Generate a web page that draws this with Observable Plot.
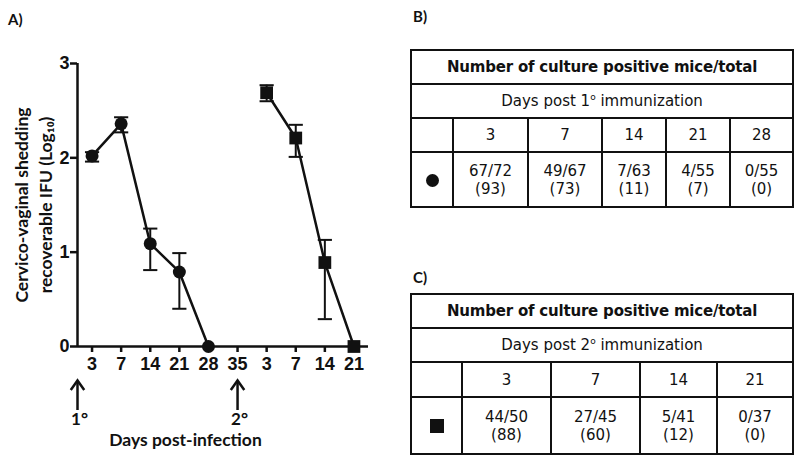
<!DOCTYPE html>
<html><head><meta charset="utf-8">
<script src="https://cdn.jsdelivr.net/npm/d3@7"></script>
<script src="https://cdn.jsdelivr.net/npm/@observablehq/plot@0.6"></script>
<style>
body{margin:0;background:#fff;}
#page{position:relative;width:800px;height:462px;overflow:hidden;background:#fff;color:#111;}
#chart{position:absolute;left:0;top:0;}
#chart g[aria-label$="tick label"], #chart g[aria-label$="tick label"] text{font-size:18px;font-weight:bold;font-family:'Liberation Sans',Arial,sans-serif;}
.panel{position:absolute;font:bold 15px Lato, sans-serif;color:#111;line-height:1;}
table.t{position:absolute;border-collapse:collapse;table-layout:fixed;font-family:"DejaVu Sans",sans-serif;color:#111;}
table.t td{border:2px solid #111;text-align:center;padding:0;font-size:15px;line-height:18px;overflow:hidden;white-space:nowrap;}
table.t td.h{font-weight:bold;font-size:15px;letter-spacing:-0.2px;}
table.t sup{font-size:9px;vertical-align:6px;line-height:0;}
.sym{display:inline-block;background:#111;vertical-align:middle;}
</style>
</head><body>
<div id="page">
  <div id="chart"></div>
  <div class="panel" style="left:8px;top:12px;">A)</div>
  <div class="panel" style="left:413px;top:9px;">B)</div>
  <div class="panel" style="left:413px;top:270px;">C)</div>
</div>
<script>
// ---- Chart data ----
const xLabels = ["3","7","14","21","28","35","3","7","14","21"];
const primaryIdx  = [0, 1, 2, 3, 4];
const primaryMean = [2.02, 2.36, 1.09, 0.79, 0];
const primaryLo   = [1.96, 2.27, 0.81, 0.40, 0];
const primaryHi   = [2.06, 2.43, 1.25, 0.99, 0];
const boostIdx  = [6, 7, 8, 9];
const boostMean = [2.69, 2.21, 0.89, 0];
const boostLo   = [2.60, 2.01, 0.29, 0];
const boostHi   = [2.77, 2.35, 1.13, 0];
const yTicks = [0, 1, 2, 3];
const immunizationPos = [-0.5, 5];
const immunizationLabels = ["1°", "2°"];
const yTitle = "Cervico-vaginal shedding\nrecoverable IFU (Log₁₀)";
const xTitle = "Days post-infection";

// ---- Table data ----
const tableTitle = "Number of culture positive mice/total";
const daysB = [3, 7, 14, 21, 28];
const positiveB = [67, 49, 7, 4, 0];
const totalB = [72, 67, 63, 55, 55];
const percentB = [93, 73, 11, 7, 0];
const daysC = [3, 7, 14, 21];
const positiveC = [44, 27, 5, 0];
const totalC = [50, 45, 41, 37];
const percentC = [88, 60, 12, 0];

const primary = primaryIdx.map((i, k) => ({i, mean: primaryMean[k], lo: primaryLo[k], hi: primaryHi[k], series: "primary"}));
const boost = boostIdx.map((i, k) => ({i, mean: boostMean[k], lo: boostLo[k], hi: boostHi[k], series: "boost"}));
const points = primary.concat(boost);
const withErr = points.filter(d => d.hi > d.lo);
const caps = withErr.flatMap(d => [{i: d.i, v: d.lo}, {i: d.i, v: d.hi}]);
const immunizations = immunizationPos.map((pos, k) => ({pos, label: immunizationLabels[k]}));

const hline = {draw(ctx, size) { const s = Math.sqrt(size); ctx.moveTo(-s, 0); ctx.lineTo(s, 0); }};
const chevron = {draw(ctx, size) { const s = Math.sqrt(size); ctx.moveTo(-s * 0.95, s * 1.35); ctx.lineTo(0, 0); ctx.lineTo(s * 0.95, s * 1.35); }};

const titleFont = "Lato, 'Open Sans', sans-serif";
const ink = "#111";

const chart = Plot.plot({
  width: 400, height: 462,
  marginLeft: 77, marginRight: 32, marginTop: 63, marginBottom: 116,
  x: {domain: [-0.5, 9.5], axis: null},
  y: {domain: [0, 3], axis: null},
  style: {fontFamily: "'Liberation Sans', Arial, sans-serif", fontSize: "18px", fontWeight: "bold", background: "white", color: ink, overflow: "visible"},
  marks: [
    Plot.axisX(d3.range(xLabels.length), {tickFormat: i => xLabels[i], tickSize: 6, tickPadding: 5, fontSize: 18, fontWeight: "bold", strokeWidth: 2.5, label: null}),
    Plot.axisY(yTicks, {tickFormat: d => String(d), tickSize: 7, tickPadding: 1, fontSize: 18, fontWeight: "bold", strokeWidth: 2.5, label: null}),
    Plot.ruleY([0], {strokeWidth: 2.5, stroke: ink}),
    Plot.ruleX([-0.5], {strokeWidth: 2.5, stroke: ink}),
    Plot.ruleX(withErr, {x: "i", y1: "lo", y2: "hi", strokeWidth: 2, stroke: ink}),
    Plot.dot(caps, {x: "i", y: "v", symbol: hline, r: 4, stroke: ink, fill: "none", strokeWidth: 2}),
    Plot.line(points, {x: "i", y: "mean", z: "series", strokeWidth: 2.5, stroke: ink}),
    Plot.dot(primary, {x: "i", y: "mean", symbol: "circle", r: 6.5, fill: ink}),
    Plot.dot(boost, {x: "i", y: "mean", symbol: "square", r: 7.2, fill: ink}),
    Plot.ruleX(immunizations, {x: "pos", insetTop: 318, insetBottom: -64, strokeWidth: 2.5, stroke: ink}),
    Plot.dot(immunizations, {x: "pos", frameAnchor: "bottom", dy: 34, symbol: chevron, r: 4, stroke: ink, fill: "none", strokeWidth: 2.5}),
    Plot.text(immunizations, {x: "pos", text: "label", frameAnchor: "bottom", dy: 78, dx: 2, fontSize: 17, fontWeight: "bold", fontFamily: titleFont, fill: ink}),
    Plot.text([xTitle], {frameAnchor: "bottom-left", dx: 108, dy: 99, textAnchor: "middle", fontSize: 17.5, fontWeight: "bold", fontFamily: titleFont, fill: ink}),
    Plot.text([yTitle], {frameAnchor: "left", dx: -45, rotate: -90, textAnchor: "middle", lineAnchor: "middle", lineHeight: 1.38, fontSize: 17.5, fontWeight: "bold", fontFamily: titleFont, fill: ink})
  ]
});
document.getElementById("chart").appendChild(chart);

function buildTable(opts) {
  const t = document.createElement("table");
  t.className = "t";
  Object.assign(t.style, {left: opts.left + "px", top: opts.top + "px", width: opts.width + "px", height: opts.height + "px"});
  const cg = document.createElement("colgroup");
  opts.colWidths.forEach(w => { const c = document.createElement("col"); c.style.width = w + "px"; cg.appendChild(c); });
  t.appendChild(cg);
  const n = opts.days.length + 1;
  const r1 = t.insertRow(); r1.style.height = opts.rowHeights[0] + "px";
  const c1 = r1.insertCell(); c1.colSpan = n; c1.className = "h"; c1.textContent = tableTitle;
  const r2 = t.insertRow(); r2.style.height = opts.rowHeights[1] + "px";
  const c2 = r2.insertCell(); c2.colSpan = n; c2.innerHTML = "Days post " + opts.dose + "<sup>o</sup> immunization";
  const r3 = t.insertRow(); r3.style.height = opts.rowHeights[2] + "px";
  r3.insertCell();
  opts.days.forEach(d => { r3.insertCell().textContent = d; });
  const r4 = t.insertRow(); r4.style.height = opts.rowHeights[3] + "px";
  const s = r4.insertCell();
  s.innerHTML = opts.symbolHtml;
  opts.days.forEach((d, k) => { r4.insertCell().innerHTML = opts.positive[k] + "/" + opts.total[k] + "<br>(" + opts.percent[k] + ")"; });
  document.getElementById("page").appendChild(t);
}
buildTable({left: 410, top: 49, width: 382, height: 157, colWidths: [42, 75, 74, 64, 64, 63], rowHeights: [34, 34, 34, 55],
  days: daysB, positive: positiveB, total: totalB, percent: percentB, dose: "1",
  symbolHtml: '<span class="sym" style="width:13px;height:13px;border-radius:50%"></span>'});
buildTable({left: 410, top: 293, width: 382, height: 160, colWidths: [51, 89, 89, 77, 76], rowHeights: [34, 34, 35, 57],
  days: daysC, positive: positiveC, total: totalC, percent: percentC, dose: "2",
  symbolHtml: '<span class="sym" style="width:14px;height:14px;"></span>'});
</script>
</body></html>
